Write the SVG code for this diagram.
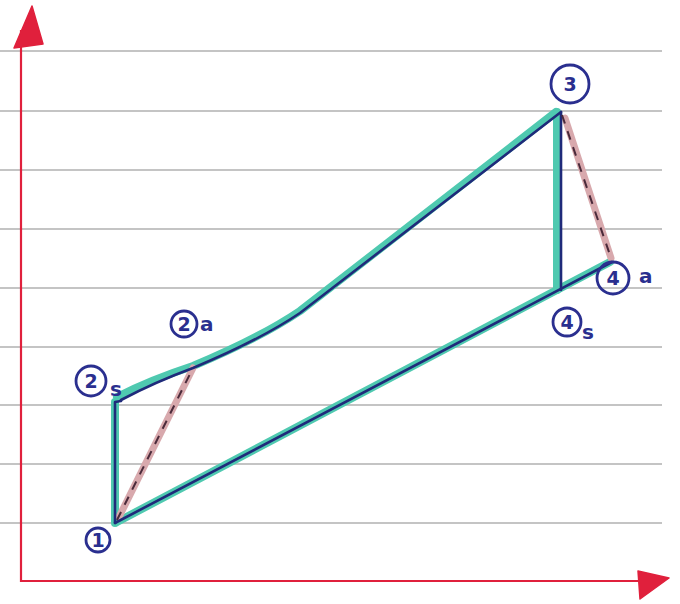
<svg xmlns="http://www.w3.org/2000/svg" width="680" height="604" viewBox="0 0 680 604">
<style>
.rule{stroke:#8a8a8a;stroke-width:1.2}
.axis{stroke:#e0203c;stroke-width:2.2;fill:none}
.head{fill:#e0203c;stroke:#e0203c;stroke-width:1.5;stroke-linejoin:round}
.hl{stroke:#4fc9b0;stroke-width:8;fill:none;stroke-linecap:round;stroke-linejoin:round}
.ink{stroke:#1f2a7a;stroke-width:2.6;fill:none;stroke-linecap:round;stroke-linejoin:round}
.phl{stroke:#d8a9ad;stroke-width:7;fill:none;stroke-linecap:round}
.dash{stroke:#4a2a3a;stroke-width:2;fill:none;stroke-dasharray:9 8}
.c{fill:none;stroke:#2a2f8f;stroke-width:2.8}
.t{font-family:"DejaVu Sans",sans-serif;font-weight:bold;fill:#2a2f8f;font-size:19px;text-anchor:middle}
.sub{font-family:"DejaVu Sans",sans-serif;font-weight:bold;fill:#2a2f8f;font-size:20px}
</style>
<rect width="680" height="604" fill="#ffffff"/>
<g id="paper">
<line class="rule" x1="0" y1="51" x2="662" y2="51"/>
<line class="rule" x1="0" y1="111" x2="662" y2="111"/>
<line class="rule" x1="0" y1="170" x2="662" y2="170"/>
<line class="rule" x1="0" y1="229" x2="662" y2="229"/>
<line class="rule" x1="0" y1="288" x2="662" y2="288"/>
<line class="rule" x1="0" y1="347" x2="662" y2="347"/>
<line class="rule" x1="0" y1="405" x2="662" y2="405"/>
<line class="rule" x1="0" y1="464" x2="662" y2="464"/>
<line class="rule" x1="0" y1="523" x2="662" y2="523"/>
</g>
<g id="axes">
<line class="axis" x1="21" y1="30" x2="21" y2="582"/>
<polygon class="head" points="32,6 14,48 43,44"/>
<line class="axis" x1="21" y1="581" x2="645" y2="581"/>
<polygon class="head" points="638,571 669,578 640,599"/>
</g>
<g id="connectors">
<path class="hl" d="M115,523 L115,402"/>
<path class="hl" d="M117,397 Q150,380 193,366 Q260,338 300,311 L556,112"/>
<path class="hl" d="M557,112 L557,290"/>
<path class="hl" d="M117,522 L610,262"/>
<path class="phl" d="M119,517 L193,368"/>
<path class="phl" d="M565,118 L611,258"/>
<path class="ink" d="M115,523 L115,402 L121,401"/>
<path class="ink" d="M121,400 Q155,382 193,368 Q260,340 300,313 L561,112"/>
<path class="ink" d="M561,112 L561,290"/>
<path class="ink" d="M115,523 L612,262"/>
<path class="dash" d="M117,520 L193,368"/>
<path class="dash" d="M562,115 L611,258"/>
</g>
<g id="n1"><circle class="c" cx="98" cy="540" r="12"/><text class="t" x="98" y="547">1</text></g>
<g id="n2s"><circle class="c" cx="91" cy="381" r="15"/><text class="t" x="91" y="388">2</text><text class="sub" x="110" y="396">s</text></g>
<g id="n2a"><circle class="c" cx="184" cy="324" r="13"/><text class="t" x="184" y="331">2</text><text class="sub" x="200" y="331">a</text></g>
<g id="n3"><circle class="c" cx="570" cy="84" r="19"/><text class="t" x="570" y="91">3</text></g>
<g id="n4a"><circle class="c" cx="613" cy="278" r="16"/><text class="t" x="613" y="285">4</text><text class="sub" x="639" y="283">a</text></g>
<g id="n4s"><circle class="c" cx="567" cy="322" r="14"/><text class="t" x="567" y="329">4</text><text class="sub" x="582" y="339">s</text></g>
</svg>
